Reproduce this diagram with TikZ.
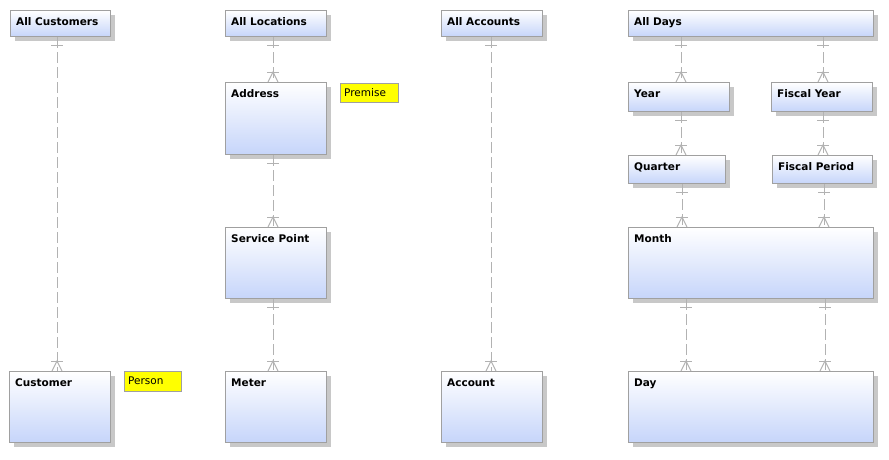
\documentclass[tikz,border=0pt]{standalone}
\usepackage{fontspec}
\setmainfont{DejaVu Sans}
\usetikzlibrary{shadows,calc}
\definecolor{entblue}{RGB}{198,213,250}
\definecolor{entline}{RGB}{160,160,160}
\definecolor{shadowgray}{RGB}{200,200,200}
\definecolor{connline}{RGB}{178,178,178}
\definecolor{noteyellow}{RGB}{255,255,0}
\tikzset{
  ent/.style={draw=entline, line width=1pt, top color=white, bottom color=entblue,
    inner sep=0pt, anchor=north west,
    drop shadow={shadow xshift=4pt, shadow yshift=-4pt, fill=shadowgray, opacity=1}},
  lbl/.style={anchor=base west, inner sep=0pt, font=\bfseries\fontsize{10.5}{12}\selectfont},
  note/.style={draw=entline, line width=1pt, fill=noteyellow, inner sep=0pt, anchor=north west},
  notelbl/.style={anchor=base west, inner sep=0pt, font=\fontsize{10.5}{12}\selectfont},
  conn/.style={draw=connline, line width=1pt, dash pattern=on 11pt off 4pt},
  mk/.style={draw=connline, line width=1pt},
}
\newcommand\entbox[6]{%
  \node[ent, minimum width=#4pt, minimum height=#5pt] (#1) at (#2,-#3) {};
  \node[lbl] (#1-t) at ([shift={(6pt,-15.5pt)}]#1.north west) {#6};}
\newcommand\notebox[6]{%
  \node[note, minimum width=#4pt, minimum height=#5pt] (#1) at (#2,-#3) {};
  \node[notelbl] (#1-t) at ([shift={(4pt,-13pt)}]#1.north west) {#6};}
\newcommand\relline[3]{%
  \path (#3,0) coordinate (rx);
  \coordinate (rt) at (#2.north -| rx);
  \coordinate (rs) at (#1.south -| rx);
  \draw[conn] (rs) -- (rt);
  \draw[mk] ($(rs)+(-6,-8)$) -- ++(12,0);
  \draw[mk] ($(rt)+(-6,10)$) -- ++(12,0);
  \draw[mk] ($(rt)+(-5,0)$) -- ($(rt)+(0,10)$) -- ($(rt)+(5,0)$);}
\begin{document}
\begin{tikzpicture}[x=1pt,y=1pt]
\useasboundingbox (0,0) rectangle (889,-459);
\entbox{ac}{10}{10}{100}{26}{All Customers}
\entbox{al}{225}{10}{101}{26}{All Locations}
\entbox{aa}{441}{10}{101}{26}{All Accounts}
\entbox{ad}{628}{10}{245}{26}{All Days}
\entbox{addr}{225}{82}{101}{72}{Address}
\entbox{sp}{225}{227}{101}{71}{Service Point}
\entbox{met}{225}{371}{101}{71}{Meter}
\entbox{cust}{9}{371}{101}{71}{Customer}
\entbox{acct}{441}{371}{101}{71}{Account}
\entbox{yr}{628}{82}{101}{29}{Year}
\entbox{fy}{771}{82}{101}{29}{Fiscal Year}
\entbox{qt}{628}{155}{97}{28}{Quarter}
\entbox{fp}{772}{155}{100}{28}{Fiscal Period}
\entbox{mon}{628}{227}{245}{71}{Month}
\entbox{day}{628}{371}{245}{71}{Day}
\notebox{prem}{340}{83}{58}{19}{Premise}
\notebox{pers}{124}{371}{57}{20}{Person}
\relline{ac}{cust}{57}
\relline{al}{addr}{273}
\relline{addr}{sp}{273}
\relline{sp}{met}{273}
\relline{aa}{acct}{491}
\relline{ad}{yr}{681}
\relline{ad}{fy}{823}
\relline{yr}{qt}{681}
\relline{fy}{fp}{823}
\relline{qt}{mon}{682}
\relline{fp}{mon}{824}
\relline{mon}{day}{686}
\relline{mon}{day}{825}
\end{tikzpicture}
\end{document}
